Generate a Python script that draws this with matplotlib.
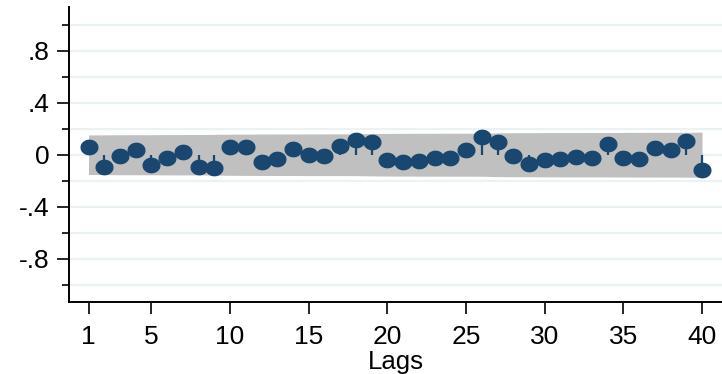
import numpy as np
import matplotlib
matplotlib.use("Agg")
import matplotlib.pyplot as plt
from matplotlib.path import Path

plt.rcParams["font.family"] = ["Liberation Sans", "DejaVu Sans"]

# Sample autocorrelations by lag
lags = list(range(1, 41))
acf = [0.062, -0.092, -0.008, 0.036, -0.079, -0.028, 0.018, -0.097, -0.105, 0.062,
       0.057, -0.054, -0.036, 0.046, -0.002, -0.010, 0.067, 0.113, 0.095, -0.043,
       -0.059, -0.048, -0.028, -0.028, 0.036, 0.138, 0.100, -0.008, -0.072, -0.041,
       -0.033, -0.020, -0.023, 0.080, -0.028, -0.036, 0.049, 0.036, 0.108, -0.118]
n_obs = 166  # observations behind the series

ytick_vals = [-0.8, -0.4, 0, 0.4, 0.8]
ytick_labels = ["-.8", "-.4", "0", ".4", ".8"]
yminor_vals = [-1.0, -0.6, -0.2, 0.2, 0.6, 1.0]
xtick_vals = [1, 5, 10, 15, 20, 25, 30, 35, 40]

# 95% confidence band, Bartlett's formula for MA(q)
r = np.array(acf)
cum = np.concatenate([[0.0], np.cumsum(r[:-1] ** 2)])
band = 1.959964 * np.sqrt((1 + 2 * cum) / n_obs)

navy = "#1a476f"
grid_c = "#eaf2f3"

fig = plt.figure(figsize=(7.22, 3.74), dpi=100)
ax = fig.add_axes([0.0956, 0.1917, 0.9044, 0.7888])

for v in ytick_vals + yminor_vals:
    ax.axhline(v, color=grid_c, lw=1.6, zorder=0)

ax.fill_between(lags, -band, band, color="#c0c0c0", lw=0, zorder=1)
ax.vlines(lags, 0, acf, color=navy, lw=1.6, zorder=2)

# slightly flattened circle marker
t = np.linspace(0, 2 * np.pi, 60)
ell = Path(np.column_stack([np.cos(t), 0.86 * np.sin(t)]), closed=True)
ax.plot(lags, acf, ls="none", marker=ell, ms=12, color=navy, mec=navy, zorder=3)

ax.set_xlim(-0.24, 41.27)
ax.set_ylim(-1.135, 1.134)
ax.set_yticks(ytick_vals)
ax.set_yticklabels(ytick_labels)
ax.set_yticks(yminor_vals, minor=True)
ax.set_xticks(xtick_vals)
ax.set_xticklabels([str(v) for v in xtick_vals])

for s in ["top", "right"]:
    ax.spines[s].set_visible(False)
for s in ["left", "bottom"]:
    ax.spines[s].set_linewidth(1.4)
    ax.spines[s].set_color("black")

ax.tick_params(axis="both", which="major", length=8.5, width=1.2, labelsize=19, pad=5.5)
ax.tick_params(axis="x", which="major", pad=7.5)
ax.tick_params(axis="y", which="minor", length=5, width=1.2)
ax.set_xlabel("Lags", fontsize=18.5, labelpad=1)

fig.savefig("out.png", dpi=100)
